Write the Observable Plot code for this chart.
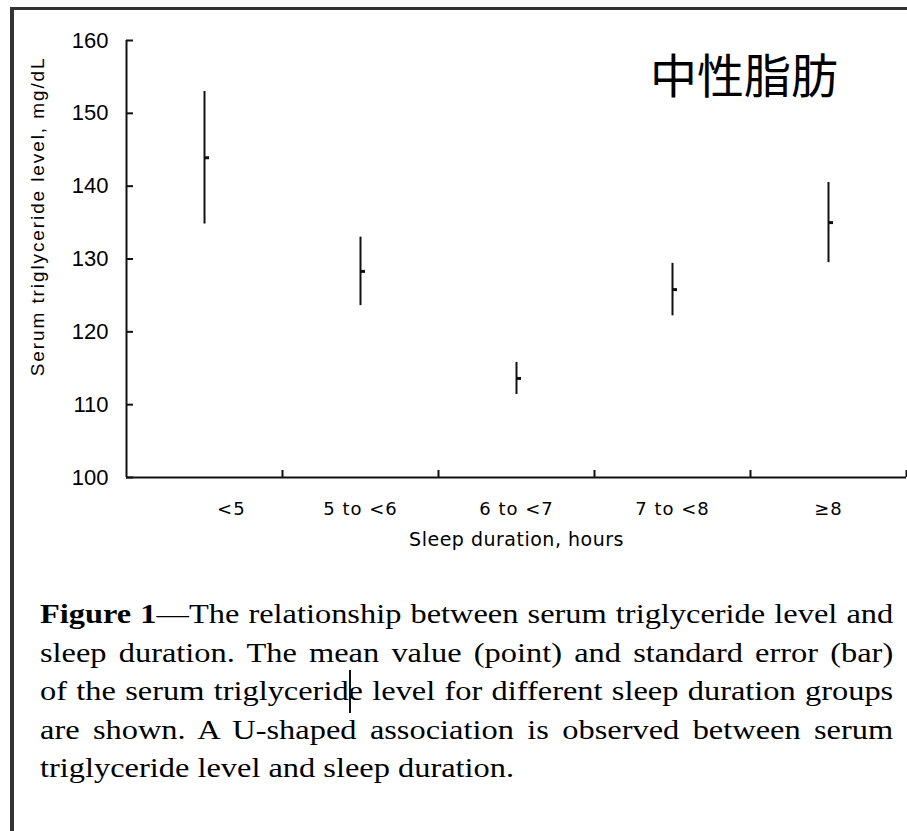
<!DOCTYPE html>
<html>
<head>
<meta charset="utf-8">
<script src="https://cdn.jsdelivr.net/npm/d3@7"></script>
<script src="https://cdn.jsdelivr.net/npm/@observablehq/plot@0.6"></script>
<style>
  html, body { margin: 0; padding: 0; background: #fff; }
  #page { position: relative; width: 907px; height: 831px; overflow: hidden; background: #fff; }
  #frame { position: absolute; left: 10px; top: 7px; width: 920px; height: 840px;
           border-top: 3px solid #333; border-left: 4px solid #333; box-sizing: border-box; }
  #chart { position: absolute; left: 0; top: 0; }
  #tag { position: absolute; left: 650px; top: 49px; font-family: "Noto Sans CJK JP", sans-serif;
         font-size: 47px; line-height: 47px; color: #000; white-space: nowrap; }
  #caption { position: absolute; left: 40px; top: 595px; width: 711px; transform: scaleX(1.2);
             transform-origin: 0 0; font-family: "Liberation Serif", "Times New Roman", serif;
             font-size: 27px; line-height: 38.5px; color: #000; }
  #caption div { text-align: justify; text-align-last: justify; white-space: nowrap; }
  #caption div.last { text-align-last: left; }
  #caret { position: absolute; left: 349px; top: 670px; width: 2px; height: 43px; background: #111; }
  .tg text { fill: #000; }
  .tg [aria-label="y-axis tick label"] { font-family: "Liberation Sans", Arial, sans-serif; }
  .tg [aria-label="x-axis tick label"] { font-family: "DejaVu Sans", sans-serif; letter-spacing: 1px; white-space: pre; }
  .tg .xtitle { font-family: "DejaVu Sans", sans-serif; letter-spacing: 0.5px; }
  .tg .ytitle { font-family: "Liberation Sans", Arial, sans-serif; letter-spacing: 1.9px; }
</style>
</head>
<body>
<div id="page">
  <div id="frame"></div>
  <div id="chart"></div>
  <div id="tag">中性脂肪</div>
  <div id="caption">
    <div><b>Figure 1</b>—The relationship between serum triglyceride level and</div>
    <div>sleep duration. The mean value (point) and standard error (bar)</div>
    <div>of the serum triglyceride level for different sleep duration groups</div>
    <div>are shown. A U-shaped association is observed between serum</div>
    <div class="last">triglyceride level and sleep duration.</div>
  </div>
  <div id="caret"></div>
</div>
<script>
// Sleep-duration groups and serum triglyceride (mg/dL): mean and standard error
const categories = ["<5", "5 to <6", "6 to <7", "7 to <8", "≥8"];
const means = [143.9, 128.3, 113.6, 125.8, 135.0];
const standardErrors = [9.1, 4.7, 2.2, 3.6, 5.5];
const yTicks = [100, 110, 120, 130, 140, 150, 160];
const yTitle = "Serum triglyceride level, mg/dL";
const xTitle = "Sleep duration, hours";

// each group occupies one unit on a linear x scale; points sit at the unit centres
const rows = categories.map((category, i) => ({
  category,
  pos: i + 0.5,
  mean: means[i],
  se: standardErrors[i]
}));
const centers = rows.map(d => d.pos);
const boundaries = categories.map((_, i) => i + 1);

// the first group's label is set a little right of its centre, with leading spaces
const tickLabel = v => {
  const i = Math.round(v - 0.5);
  return i === 0 ? "\u00a0".repeat(8) + categories[i] : categories[i];
};

// short horizontal nub to the right of each bar marks the mean
const meanNub = {
  draw(context) {
    context.moveTo(0, -1.5);
    context.lineTo(4.5, -1.5);
    context.lineTo(4.5, 1.5);
    context.lineTo(0, 1.5);
    context.closePath();
  }
};

const chart = Plot.plot({
  className: "tg",
  width: 907,
  height: 560,
  marginLeft: 126,
  marginRight: 1,
  marginTop: 40,
  marginBottom: 83,
  style: { background: "transparent", overflow: "visible", color: "#111" },
  x: { type: "linear", domain: [0, categories.length] },
  y: { domain: [100, 160] },
  marks: [
    Plot.ruleY([100], { stroke: "#111", strokeWidth: 2 }),
    Plot.ruleX([0], { stroke: "#111", strokeWidth: 2 }),
    Plot.axisY({
      ticks: yTicks, tickSize: -7, tickPadding: 25, fontSize: 22,
      strokeWidth: 2, stroke: "#111", label: null
    }),
    Plot.axisX({
      ticks: boundaries, tickSize: -7, tickFormat: () => "",
      strokeWidth: 2, stroke: "#111", label: null
    }),
    Plot.axisX({
      ticks: centers, tickSize: 0, tickPadding: 25, fontSize: 18,
      tickFormat: tickLabel, label: null
    }),
    Plot.text([xTitle], {
      text: d => d, frameAnchor: "bottom", lineAnchor: "middle",
      dy: 62, fontSize: 19, className: "xtitle"
    }),
    Plot.text([yTitle], {
      text: d => d, frameAnchor: "top-left", rotate: -90, textAnchor: "end",
      lineAnchor: "middle", dx: -89, dy: 16, fontSize: 19, className: "ytitle"
    }),
    Plot.ruleX(rows, {
      x: "pos", y1: d => d.mean - d.se, y2: d => d.mean + d.se,
      stroke: "#111", strokeWidth: 2
    }),
    Plot.dot(rows, { x: "pos", y: "mean", symbol: meanNub, fill: "#111", stroke: null })
  ]
});

document.getElementById("chart").appendChild(chart);
</script>
</body>
</html>
